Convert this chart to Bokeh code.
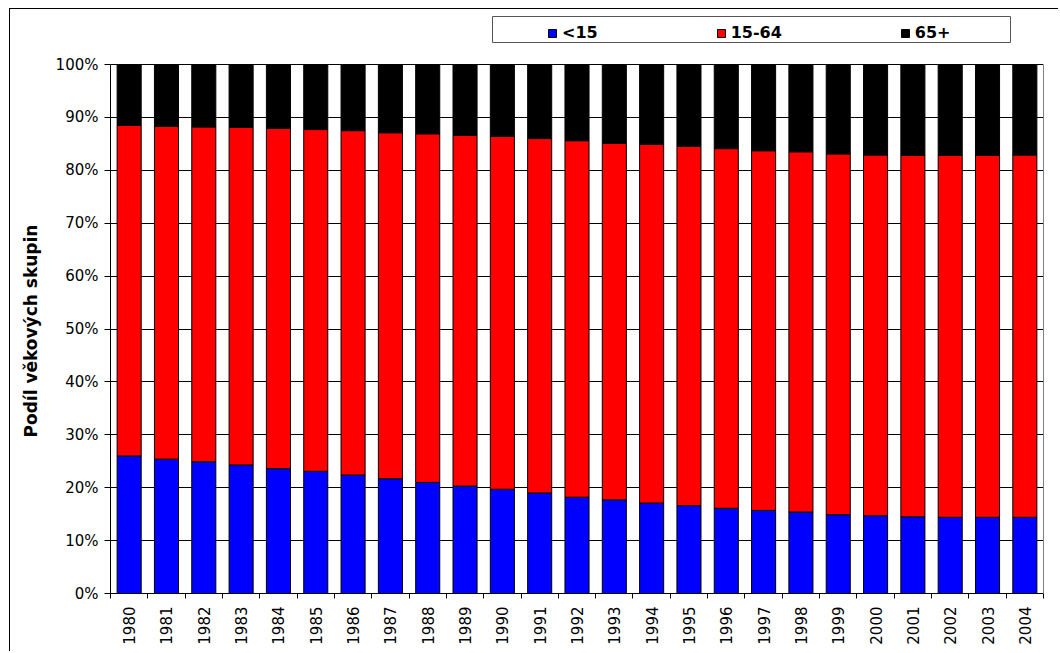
from bokeh.plotting import figure
from bokeh.models import (FixedTicker, Legend, LegendItem, ColumnDataSource, PrintfTickFormatter,
                          Range1d, LinearAxis, BoxAnnotation, Title)
from bokeh.embed import file_html
from bokeh.resources import INLINE
import math

years = ["1980", "1981", "1982", "1983", "1984", "1985", "1986", "1987", "1988", "1989",
         "1990", "1991", "1992", "1993", "1994", "1995", "1996", "1997", "1998", "1999",
         "2000", "2001", "2002", "2003", "2004"]
under15 = [26.0, 25.4, 24.9, 24.3, 23.6, 23.1, 22.4, 21.7, 21.0, 20.3, 19.7, 19.0, 18.2,
           17.7, 17.1, 16.6, 16.1, 15.7, 15.4, 14.9, 14.7, 14.5, 14.4, 14.4, 14.4]
age15_64 = [62.5, 62.9, 63.3, 63.8, 64.3, 64.6, 65.1, 65.4, 65.9, 66.3, 66.7, 67.0, 67.4,
            67.4, 67.8, 67.9, 68.0, 68.0, 68.1, 68.2, 68.2, 68.3, 68.4, 68.4, 68.5]
age65plus = [11.5, 11.7, 11.8, 11.9, 12.1, 12.3, 12.5, 12.9, 13.1, 13.4, 13.6, 14.0, 14.4,
             14.9, 15.1, 15.5, 15.9, 16.3, 16.5, 16.9, 17.1, 17.2, 17.2, 17.2, 17.1]
series_names = ["<15", "15-64", "65+"]
series_colors = ["#0000FF", "#FF0000", "#000000"]
y_ticks = [0, 10, 20, 30, 40, 50, 60, 70, 80, 90, 100]
y_label = "Podíl věkových skupin"

FONT = "DejaVu Sans"

# layout (content pixels)
W, H = 1049, 643
FL, FT, FB = 100, 3, 584          # frame left, top, bottom
Y100 = 55                          # pixel of 100%
y_top = 100 * (FB - FT) / (FB - Y100)
n = len(years)
xpos = [i + 0.5 for i in range(n)]
src = ColumnDataSource(dict(x=xpos, a=under15, b=age15_64, c=age65plus))

p = figure(width=W, height=H, output_backend="svg", toolbar_location=None,
           x_range=Range1d(0, n), y_range=Range1d(0, y_top),
           min_border_left=FL, min_border_right=16, min_border_top=FT, min_border_bottom=H - FB,
           background_fill_color="white", border_fill_color="white")
p.styles = {"border-left": "1px solid #000000", "border-top": "1px solid #000000",
            "margin-left": "9px", "margin-top": "8px"}
p.outline_line_color = None

rs = p.vbar_stack(["a", "b", "c"], x="x", width=0.645, source=src,
                  fill_color=series_colors, line_color="black", line_width=1)

p.xgrid.grid_line_color = None
p.ygrid.grid_line_color = "black"
p.ygrid.grid_line_width = 1
p.ygrid.ticker = FixedTicker(ticks=y_ticks)

# x axis: labels at centres, tick marks at category boundaries
p.xaxis.ticker = FixedTicker(ticks=xpos, minor_ticks=list(range(n + 1)))
p.xaxis.major_label_overrides = {x: y for x, y in zip(xpos, years)}
p.xaxis.major_tick_line_color = None
p.xaxis.minor_tick_line_color = "black"
p.xaxis.minor_tick_out = 5
p.xaxis.minor_tick_in = 0
p.xaxis.major_label_orientation = math.pi / 2
p.xaxis.major_label_standoff = 7
p.xaxis.major_label_text_font = FONT
p.xaxis.major_label_text_font_size = "15px"
p.xaxis.major_label_text_color = "black"
p.xaxis.axis_line_color = "black"

p.yaxis.ticker = FixedTicker(ticks=y_ticks)
p.yaxis.bounds = (0, 100)
p.yaxis.formatter = PrintfTickFormatter(format="%d%%")
p.yaxis.major_tick_out = 6
p.yaxis.major_tick_in = 0
p.yaxis.minor_tick_line_color = None
p.yaxis.major_label_text_font = FONT
p.yaxis.major_label_text_font_size = "15px"
p.yaxis.major_label_text_color = "black"
p.yaxis.major_label_standoff = 6
p.yaxis.axis_line_color = "black"

# y-axis title, centred on the 0-100 % span rather than on the whole frame
ytitle = Title(text=y_label, align="left", vertical_align="top", offset=156, standoff=20,
               text_font=FONT, text_font_size="17px", text_font_style="bold",
               text_color="black")
p.add_layout(ytitle, "left")

right_axis = LinearAxis(ticker=FixedTicker(ticks=[]), bounds=(0, 100),
                        axis_line_color="#808080", major_tick_line_color=None,
                        minor_tick_line_color=None)
p.add_layout(right_axis, "right")

# legend box
px_per_x = (1043 - 110) / n
px_per_y = (FB - Y100) / 100
box = BoxAnnotation(left=(492 - 110) / px_per_x, right=(1010 - 110) / px_per_x,
                    bottom=100 + (64 - 42) / px_per_y, top=100 + (64 - 16) / px_per_y,
                    fill_color="white", fill_alpha=1, line_color="#555555", line_width=1,
                    line_alpha=1, level="annotation")
p.add_layout(box)

legend = Legend(items=[LegendItem(label=nm, renderers=[r]) for nm, r in zip(series_names, rs)],
                orientation="horizontal", location=(552 - 5 - 110, 593 - 42))
legend.label_text_font = FONT
legend.label_text_font_size = "16px"
legend.label_text_font_style = "bold"
legend.label_text_color = "black"
legend.glyph_width = 10
legend.glyph_height = 10
legend.label_standoff = 5
legend.label_height = 16
legend.spacing = 118
legend.padding = 5
legend.margin = 0
legend.border_line_color = None
legend.background_fill_alpha = 0
p.add_layout(legend, "center")

open("out.html", "w").write(file_html(p, INLINE))
